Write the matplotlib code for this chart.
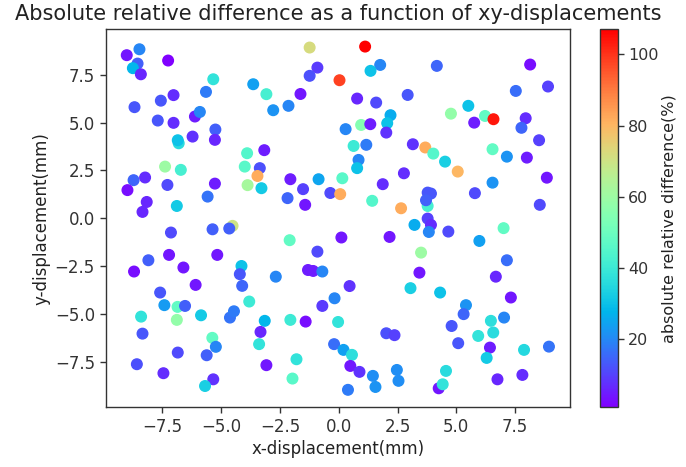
import numpy as np
import matplotlib
matplotlib.use("Agg")
import matplotlib.pyplot as plt

# x/y displacement (mm) and absolute relative difference (%)
x_disp = [-9.02, -8.48, -8.56, -8.76, -8.42, -7.26, -5.34, -5.65, -7.03, -7.57,
          -8.69, -7.70, -7.03, -6.12, -5.91, -5.25, -5.27, -6.22, -6.81, -6.85,
          -3.64, -3.08, -3.90, -3.17, -1.24, 1.12, -0.91, -1.24, 0.03, 1.76,
          1.35, -1.63, -2.79, -2.14, 0.78, 1.59, 2.93, 2.20, 2.06, 2.02,
          0.95, 1.34, 0.29, 0.63, 1.17, 3.15, 3.68, 4.17, 8.14, 7.53,
          8.90, 5.51, 4.77, 6.22, 6.58, 5.76, 7.95, 7.77, 8.52, 4.02,
          4.52, 6.54, 7.15, 8.00, 5.06, 8.85, 6.54, 5.79, 3.78, 3.78,
          3.92, 3.71, 8.55, 3.78, 3.92, 3.22, 3.83, 4.66, 7.01, 5.98,
          3.50, 7.15, 3.43, 6.68, -3.36, -3.46, -3.29, -3.88, -4.00, -2.06,
          -1.52, -2.18, -1.43, -0.86, 0.15, -0.36, 0.06, 0.84, 0.78, 1.42,
          1.87, 2.77, 2.65, -2.09, 0.11, 2.16, -0.91, -1.31, -1.09, -0.70,
          -2.68, 0.46, 3.05, -7.39, -6.72, -8.73, -8.24, -8.99, -7.29, -8.17,
          -8.35, -6.89, -5.27, -5.58, -7.14, -5.37, -4.52, -4.66, -8.10, -7.22,
          -5.17, -6.61, -8.71, -4.14, -4.21, -6.09, -4.11, -7.60, -6.86, -7.42,
          -6.54, -6.89, -5.86, -8.41, -8.35, -4.63, -4.46, -3.81, -3.15, -3.33,
          -3.39, -5.38, -5.23, -5.62, -6.85, -8.59, -7.46, -5.34, -5.69, -3.08,
          -0.18, -0.70, -2.06, -1.41, -0.03, -0.20, 0.20, 0.56, 0.49, 0.88,
          -1.80, -1.97, 1.45, 1.56, 0.39, 2.02, 2.37, 2.47, 2.54, 4.31,
          7.32, 5.41, 5.31, 4.80, 5.08, 6.47, 7.03, 5.93, 6.57, 6.43,
          6.29, 7.88, 8.94, 4.56, 4.25, 4.42, 6.75, 7.81]
y_disp = [8.53, 8.84, 8.09, 7.85, 7.53, 8.25, 7.27, 6.61, 6.44, 6.15,
          5.81, 5.11, 4.99, 5.32, 5.56, 4.64, 4.10, 4.27, 3.92, 4.08,
          7.01, 6.49, 3.40, 3.56, 8.93, 8.98, 7.88, 7.45, 7.22, 8.02,
          7.71, 6.50, 5.65, 5.88, 6.26, 6.05, 6.45, 5.39, 4.97, 4.48,
          4.88, 4.92, 4.66, 3.78, 3.84, 3.87, 3.70, 7.97, 8.04, 6.66,
          6.89, 5.88, 5.47, 5.35, 5.18, 5.00, 5.23, 4.73, 4.08, 3.38,
          2.96, 3.61, 3.22, 3.17, 2.44, 2.12, 1.86, 1.31, 0.64, 1.34,
          1.29, 0.94, 0.70, -0.02, -0.35, -0.35, -0.72, -0.70, -0.52, -1.19,
          -1.80, -2.20, -2.85, -3.06, 2.62, 2.21, 1.57, 1.73, 2.70, 2.04,
          1.52, 1.05, 0.70, 2.04, 2.09, 1.32, 1.26, 3.05, 2.62, 0.91,
          1.78, 2.35, 0.52, -1.15, -1.01, -0.98, -1.75, -2.71, -2.76, -2.79,
          -3.06, -3.55, -3.66, 2.70, 2.53, 1.99, 2.13, 1.47, 1.74, 0.85,
          0.33, 0.64, 1.81, 1.13, -0.75, -0.58, -0.40, -0.54, -2.20, -1.92,
          -1.92, -2.58, -2.79, -2.50, -2.93, -3.49, -3.54, -3.89, -4.64, -4.55,
          -4.59, -5.32, -5.08, -5.15, -6.04, -5.20, -4.87, -4.36, -5.37, -5.95,
          -6.59, -6.26, -6.73, -7.17, -7.03, -7.64, -8.11, -8.43, -8.78, -7.69,
          -4.19, -4.59, -5.32, -5.41, -5.43, -6.59, -6.89, -7.15, -7.73, -8.04,
          -7.38, -8.39, -8.25, -8.83, -8.98, -6.02, -6.12, -7.94, -8.51, -3.89,
          -4.15, -4.55, -5.02, -5.64, -6.54, -5.37, -5.20, -6.16, -5.98, -6.77,
          -7.31, -6.89, -6.72, -7.99, -8.90, -8.69, -8.43, -8.20]
abs_rel_diff = [4, 20, 14, 28, 6, 1, 38, 18, 7, 13,
                13, 13, 7, 5, 20, 14, 6, 8, 36, 30,
                24, 42, 45, 5, 72, 107, 9, 12, 98, 20,
                30, 4, 22, 20, 6, 11, 13, 26, 30, 8,
                55, 5, 20, 40, 18, 8, 82, 15, 3, 16,
                10, 30, 58, 48, 104, 5, 7, 15, 10, 45,
                33, 48, 22, 5, 80, 4, 22, 11, 42, 13,
                13, 14, 11, 10, 7, 26, 20, 11, 48, 24,
                60, 16, 4, 6, 12, 82, 32, 62, 46, 5,
                10, 15, 4, 25, 46, 11, 82, 20, 30, 45,
                7, 7, 82, 48, 4, 4, 11, 5, 5, 20,
                20, 8, 33, 60, 42, 15, 7, 3, 11, 6,
                6, 32, 5, 17, 11, 14, 70, 14, 14, 4,
                4, 4, 3, 30, 13, 4, 15, 13, 48, 23,
                14, 58, 32, 38, 13, 17, 18, 40, 28, 6,
                38, 48, 20, 14, 11, 12, 7, 8, 33, 4,
                20, 9, 40, 3, 38, 16, 24, 37, 4, 8,
                38, 46, 21, 22, 18, 12, 10, 21, 21, 30,
                4, 22, 15, 13, 13, 37, 20, 38, 36, 5,
                32, 35, 17, 36, 4, 38, 6, 7]

# reference looks like a default figure drawn ~1.2x bigger
plt.rcParams.update({
    'font.size': 12,
    'axes.linewidth': 1.0,
    'xtick.major.size': 4.2,
    'ytick.major.size': 4.2,
    'xtick.major.width': 1.0,
    'ytick.major.width': 1.0,
    'xtick.color': '#333333',
    'ytick.color': '#333333',
    'axes.edgecolor': '#333333',
    'text.color': '#222222',
    'axes.labelcolor': '#222222',
})

fig = plt.figure(figsize=(6.86, 4.67), dpi=100)
ax = fig.add_axes([0.154, 0.1285, 0.677, 0.8085])
cax = fig.add_axes([0.8746, 0.1285, 0.0263, 0.8085])

sc = ax.scatter(x_disp, y_disp, c=abs_rel_diff, cmap='rainbow', s=58)
ax.set_title('Absolute relative difference as a function of xy-displacements', fontsize=15, pad=7)
ax.set_xlabel('x-displacement(mm)', labelpad=3)
ax.set_ylabel('y-displacement(mm)', labelpad=3)

cb = fig.colorbar(sc, cax=cax)
cb.ax.tick_params(labelsize=11.5, pad=3)
cb.set_label('absolute relative difference(%)', fontsize=11.5, labelpad=2)

fig.savefig('out.png', dpi=100)
